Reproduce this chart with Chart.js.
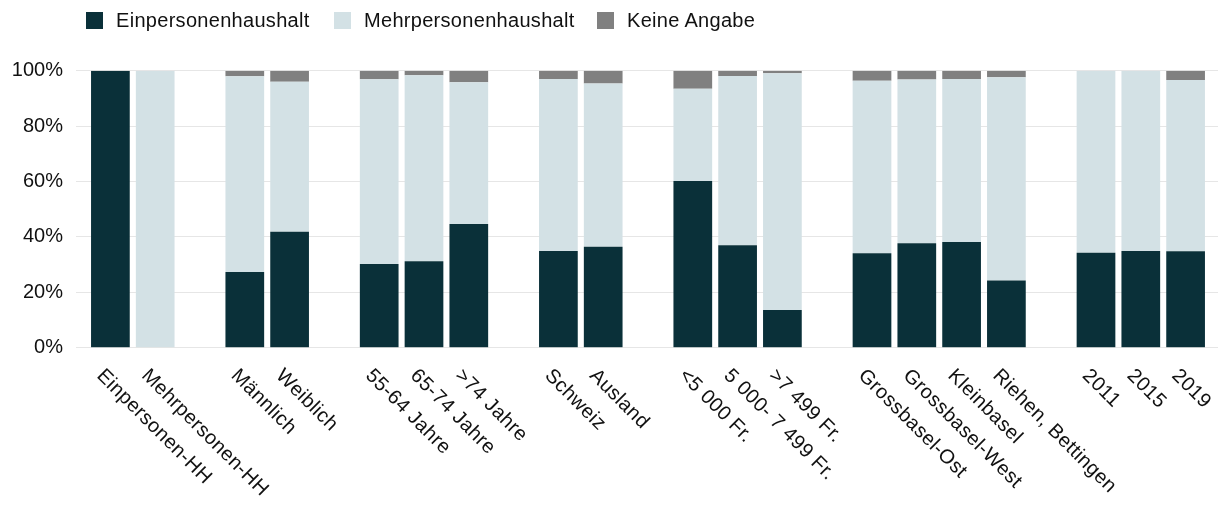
<!DOCTYPE html>
<html>
<head>
<meta charset="utf-8">
<script src="https://cdn.jsdelivr.net/npm/chart.js@4"></script>
<style>
  html, body { margin: 0; padding: 0; background: #fff; }
  #wrap { position: relative; width: 1218px; height: 507px; }
  canvas { position: absolute; left: 0; top: 0; }
  .lg { position: absolute; top: 8px; height: 24px; display: flex; align-items: center;
        font-family: "Liberation Sans", Arial, sans-serif; font-size: 20px; color: #111; letter-spacing: 0.3px; white-space: nowrap; }
  .lg i { display: inline-block; width: 17px; height: 17px; margin-right: 13px; }
</style>
</head>
<body>
<div id="wrap">
  <canvas id="c" width="1218" height="507"></canvas>
  <div id="legend"></div>
</div>
<script>
const categories = ['Einpersonen-HH', 'Mehrpersonen-HH', '', 'Männlich', 'Weiblich', '',
  '55-64 Jahre', '65-74 Jahre', '>74 Jahre', '', 'Schweiz', 'Ausland', '',
  '<5 000 Fr.', '5 000- 7 499 Fr.', '>7 499 Fr.', '',
  'Grossbasel-Ost', 'Grossbasel-West', 'Kleinbasel', 'Riehen, Bettingen', '',
  '2011', '2015', '2019'];
const seriesNames = ['Einpersonenhaushalt', 'Mehrpersonenhaushalt', 'Keine Angabe'];
const einpersonen = [100, 0, null, 27.3, 41.9, null, 30.2, 31.2, 44.7, null, 34.9, 36.4, null, 60.2, 37.0, 13.6, null, 34.1, 37.7, 38.2, 24.3, null, 34.3, 34.9, 34.8];
const mehrpersonen = [0, 100, null, 70.7, 54.1, null, 66.7, 67.2, 51.1, null, 62.1, 59.0, null, 33.3, 61.1, 85.5, null, 62.3, 59.1, 58.8, 73.3, null, 65.7, 65.1, 61.8];
const keineAngabe = [0, 0, null, 2.0, 4.0, null, 3.1, 1.6, 4.2, null, 3.0, 4.6, null, 6.5, 1.9, 0.9, null, 3.6, 3.2, 3.0, 2.4, null, 0, 0, 3.4];
const yTicks = [0, 20, 40, 60, 80, 100];
const colors = ['#0a3039', '#d3e1e5', '#808080'];

// HTML legend
const legendLefts = [86, 334, 597];
const legendEl = document.getElementById('legend');
seriesNames.forEach((n, i) => {
  const d = document.createElement('div');
  d.className = 'lg';
  d.style.left = legendLefts[i] + 'px';
  d.innerHTML = '<i style="background:' + colors[i] + '"></i><span></span>';
  d.querySelector('span').textContent = n;
  legendEl.appendChild(d);
});

const FONT = '"Liberation Sans", Arial, sans-serif';
const gridColor = '#e6e6e6';

const rotatedLabels = {
  id: 'rotatedLabels',
  afterDraw(chart) {
    const xs = chart.scales.x;
    const ctx = chart.ctx;
    ctx.save();
    ctx.font = '20px ' + FONT;
    ctx.fillStyle = '#111';
    ctx.textAlign = 'left';
    ctx.textBaseline = 'alphabetic';
    try { ctx.letterSpacing = '0.4px'; } catch (e) {}
    categories.forEach((lab, i) => {
      if (!lab) return;
      const x = xs.getPixelForValue(i);
      ctx.save();
      ctx.translate(x - 14.5, chart.chartArea.bottom + 28.8);
      ctx.rotate(Math.PI / 4);
      ctx.fillText(lab, 0, 0);
      ctx.restore();
    });
    ctx.restore();
  }
};

new Chart(document.getElementById('c'), {
  type: 'bar',
  data: {
    labels: categories,
    datasets: [
      { label: seriesNames[0], data: einpersonen, backgroundColor: colors[0] },
      { label: seriesNames[1], data: mehrpersonen, backgroundColor: colors[1] },
      { label: seriesNames[2], data: keineAngabe, backgroundColor: colors[2] }
    ]
  },
  options: {
    responsive: false,
    devicePixelRatio: 1,
    animation: false,
    layout: { padding: { left: 0, right: 0, top: 70.7, bottom: 0 } },
    datasets: { bar: { categoryPercentage: 1, barPercentage: 0.864, borderWidth: 0 } },
    plugins: { legend: { display: false }, tooltip: { enabled: false } },
    scales: {
      x: {
        stacked: true,
        offset: true,
        grid: { display: false },
        border: { display: false },
        ticks: { display: false },
        afterFit(axis) { axis.height = 159.3; }
      },
      y: {
        stacked: true,
        min: 0, max: 100,
        afterBuildTicks(axis) { axis.ticks = yTicks.map(v => ({ value: v })); },
        grid: { color: gridColor, lineWidth: 1, drawTicks: true, tickLength: 12, tickColor: gridColor },
        border: { display: false },
        ticks: { padding: 13, color: '#111', font: { family: FONT, size: 20 }, callback: v => v + '%' },
        afterFit(axis) { axis.width = 88; }
      },
      y2: {
        position: 'right',
        min: 0, max: 100,
        afterBuildTicks(axis) { axis.ticks = yTicks.map(v => ({ value: v })); },
        grid: { color: gridColor, drawOnChartArea: false, drawTicks: true, tickLength: 10, tickColor: gridColor },
        border: { display: false },
        ticks: { display: false },
        afterFit(axis) { axis.width = 10; }
      }
    }
  },
  plugins: [rotatedLabels]
});
</script>
</body>
</html>
